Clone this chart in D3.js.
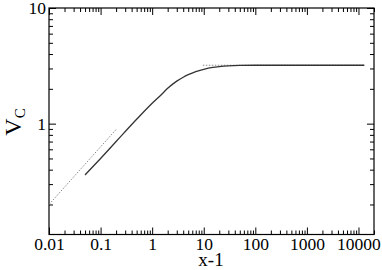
<!DOCTYPE html>
<html><head><meta charset="utf-8">
<script src="https://cdn.jsdelivr.net/npm/d3@7"></script>
<style>
html,body{margin:0;padding:0;background:#fff;}
svg{display:block;}
svg text{font-family:"Liberation Serif","Times New Roman","DejaVu Serif",serif !important;fill:#000;}
</style></head>
<body>
<script>
// Data
const xMajorTicks = [0.01, 0.1, 1, 10, 100, 1000, 10000];
const xTickLabels = ["0.01", "0.1", "1", "10", "100", "1000", "10000"];
const yMajorTicks = [1, 10];
const yTickLabels = ["1", "10"];
const xDomain = [0.01, 20000];
const yDomain = [0.11, 10];

// Solid curve: V_C versus x-1
const curveX = [0.05, 0.1, 0.2, 0.5, 1, 1.5, 2, 3, 4, 5, 7, 10, 15, 20, 30, 50, 100, 1000, 13000];
const curveV = [0.36, 0.50, 0.70, 1.09, 1.50, 1.78, 2.02, 2.33, 2.52, 2.65, 2.82, 2.95, 3.06, 3.11, 3.16, 3.19, 3.2, 3.2, 3.2];

// Dotted asymptotes
const lowAsymX = [0.01, 0.2];
const lowAsymV = [0.2, 0.89];
const highAsymX = [9.6, 13000];
const highAsymV = [3.2, 3.2];

const W = 382, H = 270;
const L = 49, R = 374, T = 8, B = 234.5;
const FONT = '"Liberation Serif","Times New Roman",serif';

const svg = d3.select("body").append("svg").attr("width", W).attr("height", H);
const x = d3.scaleLog().domain(xDomain).range([L, R]);
const y = d3.scaleLog().domain(yDomain).range([B, T]);

// minor ticks
const xMinor = [];
for (let d = -2; d <= 4; d++) for (let m = 2; m <= 9; m++) { const v = m * Math.pow(10, d); if (v <= xDomain[1]) xMinor.push(v); }
const yMinor = [];
for (let d = -1; d <= 0; d++) for (let m = 2; m <= 9; m++) { const v = m * Math.pow(10, d); if (v >= yDomain[0] && v <= yDomain[1]) yMinor.push(v); }

function styleAxis(g) {
  g.attr("font-family", FONT);
  g.selectAll(".domain").remove();
  g.selectAll(".tick line").attr("stroke", "#000").attr("stroke-width", 1);
}

// bottom
svg.append("g").attr("transform", `translate(0,${B})`)
  .call(d3.axisBottom(x).tickValues(xMajorTicks).tickSize(-7).tickPadding(3)
    .tickFormat((d, i) => xTickLabels[i]))
  .call(styleAxis)
  .call(g => g.selectAll("text").attr("font-size", 17.5).attr("dy", "0.71em"));
svg.append("g").attr("transform", `translate(0,${B})`)
  .call(d3.axisBottom(x).tickValues(xMinor).tickSize(-4).tickFormat(""))
  .call(styleAxis);
// top
svg.append("g").attr("transform", `translate(0,${T})`)
  .call(d3.axisTop(x).tickValues(xMajorTicks).tickSize(-7).tickFormat(""))
  .call(styleAxis);
svg.append("g").attr("transform", `translate(0,${T})`)
  .call(d3.axisTop(x).tickValues(xMinor).tickSize(-4).tickFormat(""))
  .call(styleAxis);
// left
svg.append("g").attr("transform", `translate(${L},0)`)
  .call(d3.axisLeft(y).tickValues(yMajorTicks).tickSize(-7).tickPadding(3)
    .tickFormat((d, i) => yTickLabels[i]))
  .call(styleAxis)
  .call(g => g.selectAll("text").attr("font-size", 17.5));
svg.append("g").attr("transform", `translate(${L},0)`)
  .call(d3.axisLeft(y).tickValues(yMinor).tickSize(-4).tickFormat(""))
  .call(styleAxis);
// right
svg.append("g").attr("transform", `translate(${R},0)`)
  .call(d3.axisRight(y).tickValues(yMajorTicks).tickSize(-7).tickFormat(""))
  .call(styleAxis);
svg.append("g").attr("transform", `translate(${R},0)`)
  .call(d3.axisRight(y).tickValues(yMinor).tickSize(-4).tickFormat(""))
  .call(styleAxis);

// frame
svg.append("rect").attr("x", L).attr("y", T).attr("width", R - L).attr("height", B - T)
  .attr("fill", "none").attr("stroke", "#000").attr("stroke-width", 1.2);

const line = d3.line().x(d => x(d[0])).y(d => y(d[1])).curve(d3.curveMonotoneX);

svg.append("path").datum(lowAsymX.map((v, i) => [v, lowAsymV[i]]))
  .attr("d", line).attr("fill", "none").attr("stroke", "#888").attr("stroke-width", 1)
  .attr("stroke-dasharray", "1.5,1.5");
svg.append("path").datum(highAsymX.map((v, i) => [v, highAsymV[i]]))
  .attr("d", line).attr("fill", "none").attr("stroke", "#888").attr("stroke-width", 1)
  .attr("stroke-dasharray", "1.5,1.5");
svg.append("path").datum(curveX.map((v, i) => [v, curveV[i]]))
  .attr("d", line).attr("fill", "none").attr("stroke", "#333").attr("stroke-width", 1.3);

// axis labels
svg.append("text").attr("x", 211).attr("y", 266).attr("text-anchor", "middle")
  .attr("font-family", FONT).attr("font-size", 19).text("x-1");
const yl = svg.append("text").attr("transform", "translate(21,122) rotate(-90)")
  .attr("text-anchor", "middle").attr("font-family", FONT).attr("font-size", 24);
yl.append("tspan").text("V");
yl.append("tspan").attr("font-size", 15).attr("dy", 4).text("C");
</script>
</body></html>
